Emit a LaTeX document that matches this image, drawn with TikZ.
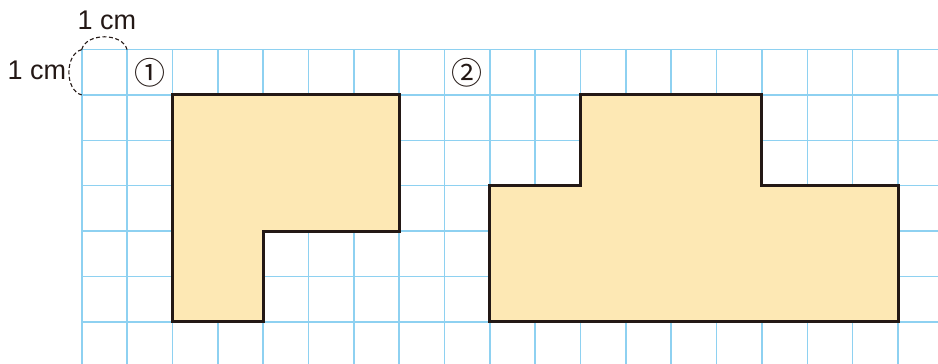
\documentclass[tikz,border=0pt]{standalone}
\usepackage{fontspec}
\setmainfont{Liberation Sans}
\newfontfamily\circfont{Noto Sans CJK JP}
\definecolor{gridblue}{HTML}{8ED1F1}
\definecolor{shapefill}{HTML}{FDE8B4}
\definecolor{outline}{HTML}{231815}
\definecolor{textcol}{HTML}{231815}
\tikzset{
  gridline/.style={draw=gridblue, line width=1.6pt},
  figshape/.style={draw=outline, fill=shapefill, line width=3pt, line join=miter},
  unitlabel/.style={font=\fontsize{27}{27}\selectfont, text=textcol, inner sep=0pt},
  numlabel/.style={font=\circfont\fontsize{31}{31}\selectfont, text=textcol, inner sep=0pt},
  brace/.style={draw=textcol, line width=1.1pt, dash pattern=on 4pt off 2.5pt}
}
\begin{document}
\begin{tikzpicture}[x=1pt,y=-1pt]
\useasboundingbox (0,0) rectangle (938,364);
\begin{scope}[shift={(81.7,49.6)}, x=45.35pt, y=-45.35pt]
  % grid
  \foreach \i in {0,...,18} \draw[gridline] (\i,0) -- (\i,6.93);
  \foreach \k in {0,...,6} \draw[gridline] (0,\k) -- (18.88,\k);
  % shape 1
  \coordinate (a1) at (2,1); \coordinate (a2) at (7,1); \coordinate (a3) at (7,4);
  \coordinate (a4) at (4,4); \coordinate (a5) at (4,6); \coordinate (a6) at (2,6);
  \draw[figshape] (a1) -- (a2) -- (a3) -- (a4) -- (a5) -- (a6) -- cycle;
  % shape 2
  \coordinate (b1) at (9,3); \coordinate (b2) at (11,3); \coordinate (b3) at (11,1);
  \coordinate (b4) at (15,1); \coordinate (b5) at (15,3); \coordinate (b6) at (18,3);
  \coordinate (b7) at (18,6); \coordinate (b8) at (9,6);
  \draw[figshape] (b1) -- (b2) -- (b3) -- (b4) -- (b5) -- (b6) -- (b7) -- (b8) -- cycle;
  % corner and unit marks
  \coordinate (o) at (0,0); \coordinate (ox) at (1,0); \coordinate (oy) at (0,1);
  \draw[brace] (o) to[bend left=75] (ox);
  \draw[brace] (o) to[bend right=75] (oy);
  \node[numlabel] (n1) at (1.5,0.52) {①};
  \node[numlabel] (n2) at (8.49,0.52) {②};
\end{scope}
\node[unitlabel] (topcm) at (107,20) {1 cm};
\node[unitlabel] (leftcm) at (37,70) {1 cm};
\end{tikzpicture}
\end{document}
